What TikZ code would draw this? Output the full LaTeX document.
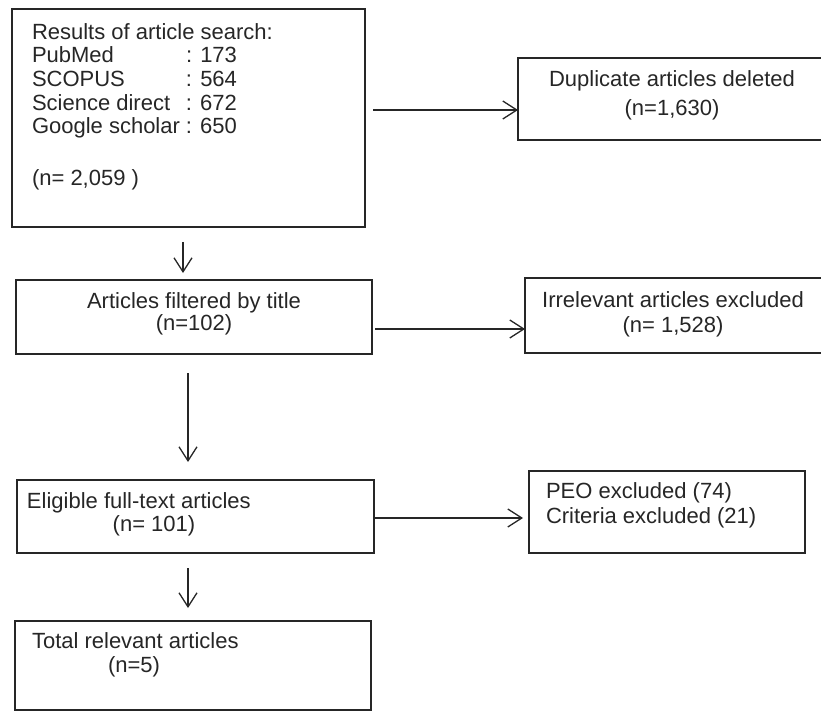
\documentclass[tikz,border=0pt]{standalone}
\usepackage{fontspec}
\setmainfont{Liberation Sans}
\usetikzlibrary{arrows.meta}
\begin{document}
\begin{tikzpicture}[x=1pt,y=-1pt,
  box/.style={draw=black!85, line width=1.4pt, inner sep=0pt, outer sep=0pt, anchor=north west},
  txt/.style={inner sep=0pt, outer sep=0pt, text=black!85, font=\fontsize{22}{23.5}\selectfont},
  arr/.style={draw=black!85, line width=1.3pt, -{Straight Barb[length=14pt,width=18pt,line width=1.3pt]}}]
\useasboundingbox (0,0) rectangle (821,711);
\clip (0,0) rectangle (821,711);
% boxes
\node[box, minimum width=353pt, minimum height=218pt] (b1) at (12,9) {};
\node[box, minimum width=312pt, minimum height=82pt] (dup) at (518,58) {};
\node[box, minimum width=356pt, minimum height=74pt] (art) at (16,280) {};
\node[box, minimum width=305pt, minimum height=75pt] (irr) at (525,278) {};
\node[box, minimum width=357pt, minimum height=73pt] (eli) at (17,480) {};
\node[box, minimum width=276pt, minimum height=82pt] (peo) at (529,471) {};
\node[box, minimum width=356pt, minimum height=89pt] (tot) at (15,621) {};
% texts
\node[txt, anchor=base west] (t1) at (32,40) {Results of article search:};
\node[txt, anchor=base west] (t2) at (32,63) {\makebox[154pt][l]{PubMed}: 173};
\node[txt, anchor=base west] (t3) at (32,87) {\makebox[154pt][l]{SCOPUS}: 564};
\node[txt, anchor=base west] (t4) at (32,111) {\makebox[154pt][l]{Science direct}: 672};
\node[txt, anchor=base west] (t5) at (32,134) {\makebox[154pt][l]{Google scholar}: 650};
\node[txt, anchor=base west] (t6) at (32,186) {(n= 2,059 )};
\node[txt, anchor=base] (d1) at (672,87) {Duplicate articles deleted};
\node[txt, anchor=base] (d2) at (672,116) {(n=1,630)};
\node[txt, anchor=base] (a1) at (194,308) {Articles filtered by title};
\node[txt, anchor=base] (a2) at (194,330) {(n=102)};
\node[txt, anchor=base] (i1) at (673,307) {Irrelevant articles excluded};
\node[txt, anchor=base] (i2) at (673,332) {(n= 1,528)};
\node[txt, anchor=base west] (e1) at (27,508) {Eligible full-text articles};
\node[txt, anchor=base] (e2) at (154,531) {(n= 101)};
\node[txt, anchor=base west] (p1) at (546,498) {PEO excluded (74)};
\node[txt, anchor=base west] (p2) at (546,523) {Criteria excluded (21)};
\node[txt, anchor=base west] (r1) at (32,648) {Total relevant articles};
\node[txt, anchor=base] (r2) at (134,672) {(n=5)};
% helper coordinates
\coordinate (h1) at (0,110);
\coordinate (h2) at (0,329);
\coordinate (h3) at (0,518);
\coordinate (v1) at (183,0);
\coordinate (v2) at (188,0);
% connectors
\draw[arr, shorten <=8pt] (b1.east |- h1) -- (dup.west |- h1);
\draw[arr, shorten <=3pt] (art.east |- h2) -- (irr.west |- h2);
\draw[arr, shorten <=1pt, shorten >=6pt] (eli.east |- h3) -- (peo.west |- h3);
\draw[arr, shorten <=15pt, shorten >=7pt] (b1.south -| v1) -- (art.north -| v1);
\draw[arr, shorten <=19pt, shorten >=18pt] (art.south -| v2) -- (eli.north -| v2);
\draw[arr, shorten <=15pt, shorten >=13pt] (eli.south -| v2) -- (tot.north -| v2);
\end{tikzpicture}
\end{document}
